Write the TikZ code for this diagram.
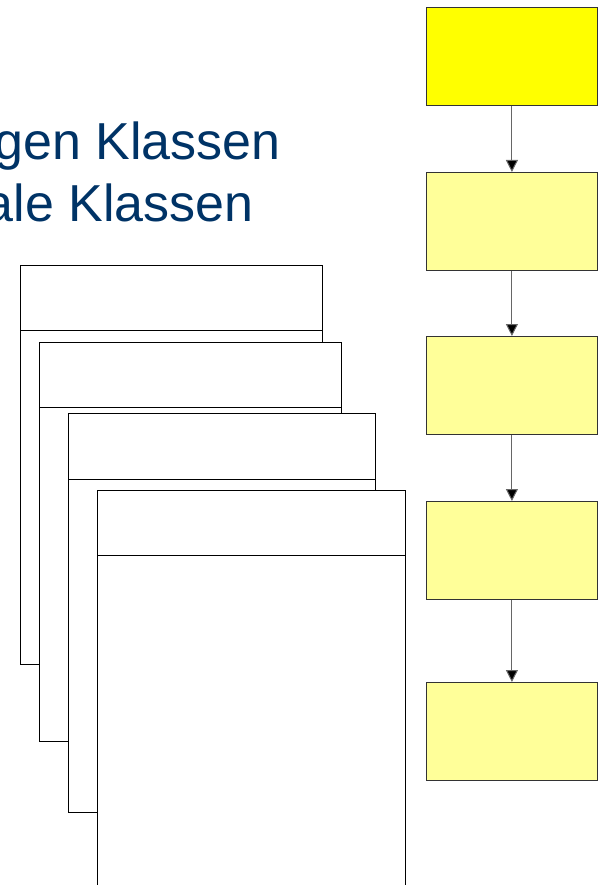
\documentclass[tikz,border=0pt]{standalone}
\usepackage{fontspec}
\setmainfont{Liberation Sans}
\usetikzlibrary{arrows.meta}
\definecolor{titleblue}{HTML}{003366}
\definecolor{stepyellow}{HTML}{FFFF00}
\definecolor{paleyellow}{HTML}{FFFF99}
\begin{document}
\begin{tikzpicture}[x=1pt,y=-1pt,
  card/.style={draw=black,fill=white,line width=0.9pt},
  flowbox/.style={draw=black!80,fill=paleyellow,line width=0.8pt,minimum width=171pt,minimum height=98pt,inner sep=0pt},
  flowarrow/.style={draw=black!60,line width=1pt,-{Triangle[length=12pt,width=12pt,fill=black]}},
  titletext/.style={text=titleblue,font=\fontsize{52}{60}\selectfont,inner sep=0pt}]
\useasboundingbox (0,0) rectangle (603,885);
\clip (0,0) rectangle (603,885);
% title text (clipped at left in the reference)
\node[titletext,anchor=base east] (t1) at (281,160) {gen Klassen};
\node[titletext,anchor=base east] (t2) at (254,222) {ale Klassen};
% stacked class cards
\draw[card] (20,265) rectangle (322,664);
\draw[line width=0.9pt] (20,330) -- (322,330);
\draw[card] (39,342) rectangle (341,741);
\draw[line width=0.9pt] (39,407) -- (341,407);
\draw[card] (68,413) rectangle (375,812);
\draw[line width=0.9pt] (68,479) -- (375,479);
\draw[card] (97,490) rectangle (405,905);
\draw[line width=0.9pt] (97,555) -- (405,555);
% flow boxes
\node[flowbox,fill=stepyellow,anchor=north west] (b1) at (426,7) {};
\node[flowbox,anchor=north west] (b2) at (426,172) {};
\node[flowbox,anchor=north west] (b3) at (426,336) {};
\node[flowbox,anchor=north west] (b4) at (426,501) {};
\node[flowbox,anchor=north west] (b5) at (426,682) {};
\draw[flowarrow] (b1.south) -- (b2.north);
\draw[flowarrow] (b2.south) -- (b3.north);
\draw[flowarrow] (b3.south) -- (b4.north);
\draw[flowarrow] (b4.south) -- (b5.north);
\end{tikzpicture}
\end{document}
